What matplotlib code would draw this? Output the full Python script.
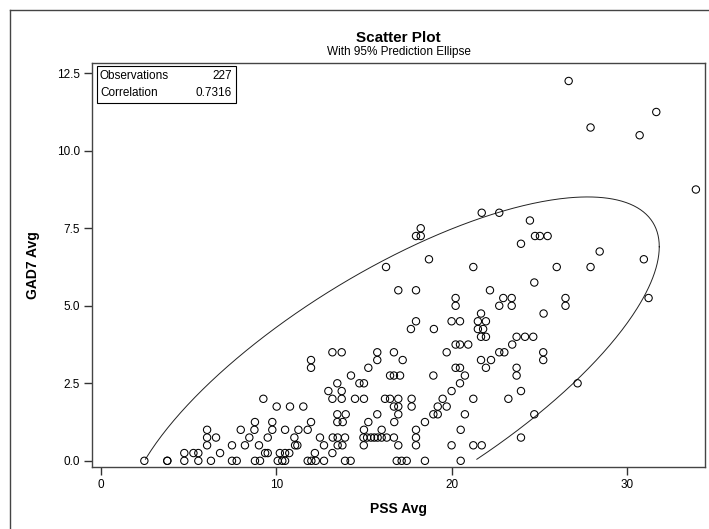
import numpy as np
import matplotlib
matplotlib.use("Agg")
import matplotlib.pyplot as plt
from matplotlib.lines import Line2D

plt.rcParams['font.family'] = ['Liberation Sans', 'DejaVu Sans']

# PSS Avg (x) and GAD7 Avg (y)
pss_avg = [
    2.47, 3.78, 3.78, 4.75, 5.55, 6.27, 7.47, 7.74, 8.78, 9.07, 10.08, 10.34, 10.5,
    11.79, 12.0, 12.25, 12.72, 13.92, 14.24, 16.87, 17.15, 17.44, 18.48, 20.52,
    4.75, 5.27, 5.55, 6.79, 9.36, 9.51, 10.2, 10.5, 10.74, 12.2, 13.2,
    6.05, 7.47, 8.21, 9.01, 11.07, 11.2, 12.72, 13.5, 13.77, 14.99, 16.96, 17.97,
    20.0, 21.24, 21.72,
    6.05, 6.56, 8.46, 9.51, 11.03, 12.49, 13.22, 13.5, 13.92, 14.97, 15.18, 15.4,
    15.59, 15.78, 16.01, 16.3, 16.71, 17.97, 23.96,
    6.05, 7.97, 8.75, 9.77, 10.5, 11.26, 11.79, 15.0, 16.01, 17.97, 20.52,
    8.78, 9.77, 11.98, 13.48, 13.79, 15.25, 16.73, 18.48,
    13.48, 13.96, 15.76, 16.96, 18.96, 19.21, 20.76, 24.72,
    10.02, 10.78, 11.54, 16.71, 16.96, 17.72, 19.21, 19.72,
    9.26, 13.2, 13.73, 14.49, 15.0, 16.2, 16.49, 16.96, 17.72, 19.49, 21.24, 23.24,
    12.97, 13.73, 20.0, 23.96,
    13.48, 14.74, 15.0, 20.48, 27.19,
    14.26, 16.49, 16.71, 17.06, 18.96, 20.76, 23.71,
    11.98, 15.25, 20.23, 20.48, 21.96, 23.71,
    11.98, 15.76, 17.21, 21.68, 22.25, 25.23,
    13.2, 13.73, 15.76, 16.71, 19.72, 22.72, 23.01, 25.23,
    20.23, 20.48, 20.95, 23.46,
    21.68, 21.96, 23.71, 24.19, 24.66,
    17.68, 18.99, 21.5, 21.8,
    17.97, 20.0, 20.48, 21.5, 21.96,
    21.68, 25.25,
    20.23, 22.72, 23.43, 26.5,
    20.23, 22.95, 23.43, 26.5, 31.24,
    16.96, 17.97, 22.19,
    24.72,
    16.26, 21.24, 26.0, 27.93,
    18.71, 30.97,
    28.45,
    23.96,
    17.97, 18.24, 24.76, 25.04, 25.48,
    18.24,
    24.47,
    21.72, 22.72,
    33.94, 30.73, 27.93, 31.68, 26.68,
]
gad7_avg = (
    [0.0] * 24 + [0.25] * 11 + [0.5] * 15 + [0.75] * 19 + [1.0] * 11
    + [1.25] * 8 + [1.5] * 8 + [1.75] * 8 + [2.0] * 12 + [2.25] * 4
    + [2.5] * 5 + [2.75] * 7 + [3.0] * 6 + [3.25] * 6 + [3.5] * 8
    + [3.75] * 4 + [4.0] * 5 + [4.25] * 4 + [4.5] * 5 + [4.75] * 2
    + [5.0] * 4 + [5.25] * 5 + [5.5] * 3 + [5.75] * 1 + [6.25] * 4
    + [6.5] * 2 + [6.75] * 1 + [7.0] * 1 + [7.25] * 5 + [7.5] * 1
    + [7.75] * 1 + [8.0] * 2 + [8.75, 10.5, 10.75, 11.25, 12.25]
)

n_obs = 227
corr = 0.7316

# prediction ellipse: centre and half-widths
ell_center = (16.61, 2.53)
ell_half = (15.24, 5.98)

x_ticks = [0, 10, 20, 30]
y_ticks = [0.0, 2.5, 5.0, 7.5, 10.0, 12.5]

W, H = 709, 529
fig = plt.figure(figsize=(W / 100, H / 100), dpi=100)
ax = fig.add_axes([92.3 / W, 1 - 466.7 / H, (705 - 92.3) / W, (466.7 - 63) / H])

ax.scatter(pss_avg, gad7_avg, s=28, facecolors='none', edgecolors='black',
           linewidths=0.75, zorder=3)

t = np.linspace(0, 2 * np.pi, 600)
ex = ell_center[0] + ell_half[0] * np.cos(t)
ey = ell_center[1] + ell_half[1] * (corr * np.cos(t) + np.sqrt(1 - corr ** 2) * np.sin(t))
ey = np.where(ey < 0, np.nan, ey)
ax.plot(ex, ey, color='#222222', lw=0.7, zorder=2)

ax.set_xlim(-0.5, 34.46)
ax.set_ylim(-0.19, 12.83)
ax.set_xticks(x_ticks)
ax.set_yticks(y_ticks)
ax.set_yticklabels([f'{v:.1f}' for v in y_ticks])
ax.tick_params(direction='out', length=6, width=1, labelsize=8.5, color='#333333', pad=3)
for sp in ax.spines.values():
    sp.set_color('#444444')
    sp.set_linewidth(1)

ax.set_xlabel('PSS Avg', fontsize=10, fontweight='bold', labelpad=8)
ax.set_ylabel('GAD7 Avg', fontsize=10, fontweight='bold', labelpad=12)

fig.text(398.5 / W, 1 - 38 / H, 'Scatter Plot', ha='center', va='center',
         fontsize=11, fontweight='bold')
fig.text(398.5 / W, 1 - 52 / H, 'With 95% Prediction Ellipse', ha='center',
         va='center', fontsize=8.5)

# statistics box
box = plt.Rectangle((97 / W, 1 - 103 / H), (236 - 97) / W, (103 - 66) / H,
                    transform=fig.transFigure, fill=False, ec='black', lw=0.8)
fig.patches.append(box)
fig.text(100 / W, 1 - 76 / H, 'Observations', fontsize=8.5, va='center')
fig.text(232 / W, 1 - 76 / H, f'{n_obs}', fontsize=8.5, va='center', ha='right')
fig.text(100 / W, 1 - 93 / H, 'Correlation', fontsize=8.5, va='center')
fig.text(232 / W, 1 - 93 / H, f'{corr:.4f}', fontsize=8.5, va='center', ha='right')

# outer frame (left and top edges visible)
fig.lines.append(Line2D([9.5 / W, 9.5 / W], [0, 1 - 9.5 / H], transform=fig.transFigure,
                        color='#444444', lw=1))
fig.lines.append(Line2D([9.5 / W, 1], [1 - 9.5 / H, 1 - 9.5 / H], transform=fig.transFigure,
                        color='#444444', lw=1))

fig.savefig('out.png', dpi=100)
